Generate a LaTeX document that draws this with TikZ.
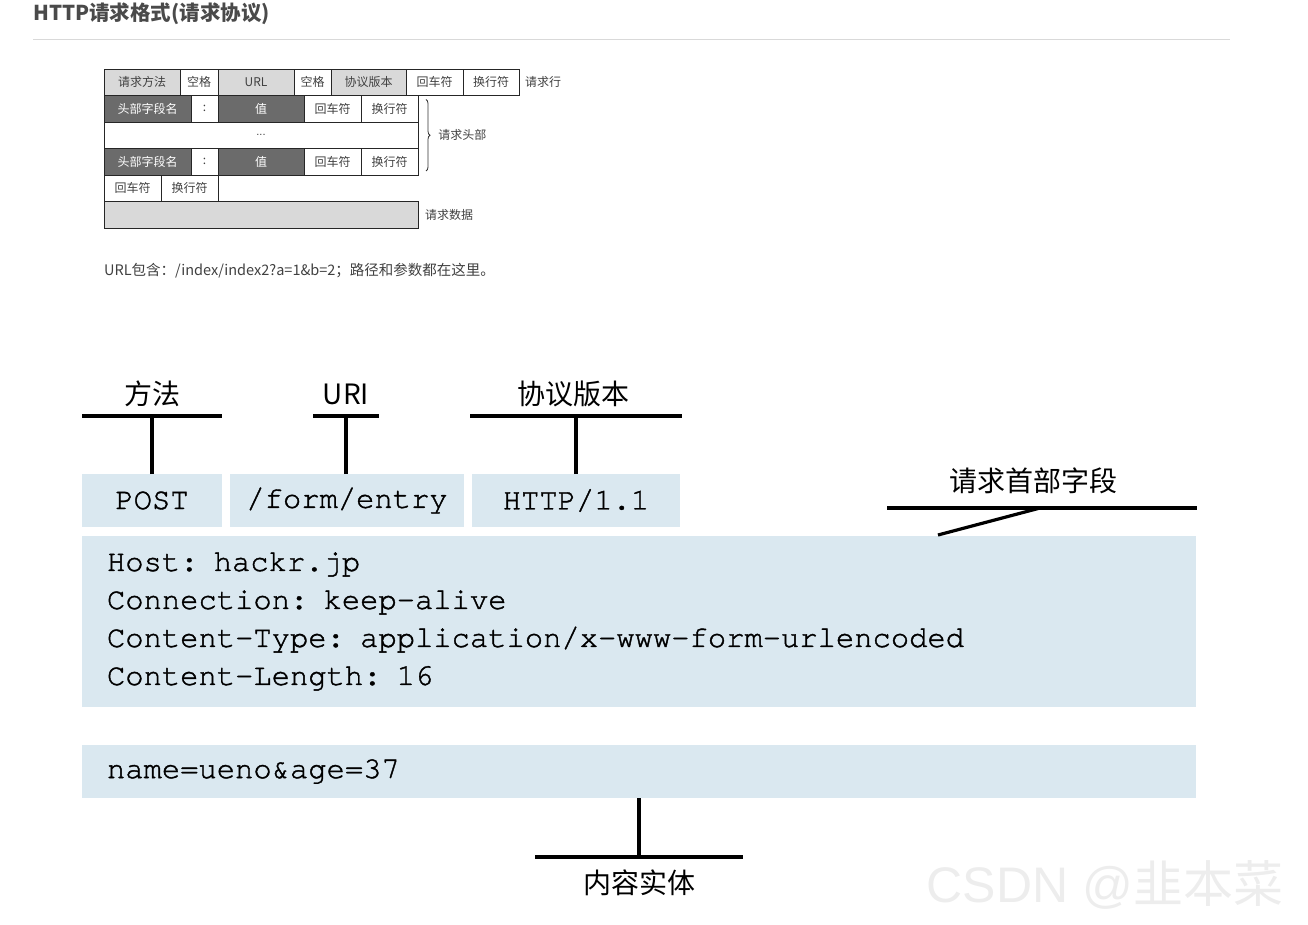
\documentclass[tikz,border=0pt]{standalone}
\usepackage{fontspec}
\setmainfont{Liberation Sans}
\newfontfamily\courfont[FakeBold=1.3]{TeX Gyre Cursor}
\newfontfamily\cjk{Noto Sans CJK SC}
\usetikzlibrary{positioning, calc, decorations.pathreplacing}
\definecolor{boxblue}{HTML}{DAE8F0}
\definecolor{cellgray}{HTML}{D9D9D9}
\definecolor{celldark}{HTML}{6B6B6B}
\definecolor{titlegray}{HTML}{4A4A4A}

\begin{document}
\begin{tikzpicture}[x=1pt, y=-1pt,
  cell/.style={draw=black!85, line width=0.8pt, anchor=north west, inner sep=0pt, outer sep=0pt,
               minimum height=26.5pt, font=\cjk\fontsize{12}{12}\selectfont, text=black!75},
  light/.style={cell, fill=cellgray},
  dark/.style={cell, fill=celldark, text=white},
  side/.style={font=\cjk\fontsize{12}{12}\selectfont, text=black!75, anchor=west, inner sep=0pt},
  part/.style={fill=boxblue, inner sep=0pt, outer sep=0pt, minimum height=53pt,
               font=\courfont\fontsize{30.5}{38}\selectfont},
  tag/.style={font=\cjk\fontsize{28}{28}\selectfont, inner sep=0pt},
  bar/.style={line width=3.2pt, black}
]
  \useasboundingbox (0,0) rectangle (1308,925);

  % page heading
  \node[anchor=west, inner sep=0pt, font=\cjk\bfseries\fontsize{20.5}{20.5}\selectfont, text=titlegray]
    (title) at (33,14) {HTTP请求格式(请求协议)};
  \draw[black!15, line width=1pt] (33,40) -- (1230,40);

  % request line
  \node[light, minimum width=76pt] (method) at (104,69) {请求方法};
  \node[cell, minimum width=38pt, right=0pt of method] (sp1) {空格};
  \node[light, minimum width=76pt, right=0pt of sp1] (url) {URL};
  \node[cell, minimum width=37pt, right=0pt of url] (sp2) {空格};
  \node[light, minimum width=75pt, right=0pt of sp2] (proto) {协议版本};
  \node[cell, minimum width=57pt, right=0pt of proto] (cr1) {回车符};
  \node[cell, minimum width=56pt, right=0pt of cr1] (lf1) {换行符};
  \node[side, right=6pt of lf1] (linetag) {请求行};

  % header lines
  \node[dark, minimum width=87pt] (hname1) at (method.south west) {头部字段名};
  \node[cell, minimum width=27pt, right=0pt of hname1] (colon1) {:};
  \node[dark, minimum width=86pt, right=0pt of colon1] (hval1) {值};
  \node[cell, minimum width=57pt, right=0pt of hval1] (cr2) {回车符};
  \node[cell, minimum width=57pt, right=0pt of cr2] (lf2) {换行符};

  \node[cell, minimum width=314pt, font=\fontsize{11}{11}\selectfont] (dots) at (hname1.south west) {...};

  \node[dark, minimum width=87pt] (hname2) at (dots.south west) {头部字段名};
  \node[cell, minimum width=27pt, right=0pt of hname2] (colon2) {:};
  \node[dark, minimum width=86pt, right=0pt of colon2] (hval2) {值};
  \node[cell, minimum width=57pt, right=0pt of hval2] (cr3) {回车符};
  \node[cell, minimum width=57pt, right=0pt of cr3] (lf3) {换行符};

  % blank line and data
  \node[cell, minimum width=57pt] (cr4) at (hname2.south west) {回车符};
  \node[cell, minimum width=57pt, right=0pt of cr4] (lf4) {换行符};
  \node[light, minimum width=314pt] (data) at (cr4.south west) {};
  \node[side, right=7pt of data] (datatag) {请求数据};

  \coordinate (bt) at ($(lf2.north east)+(8,4)$);
  \coordinate (bb) at ($(lf3.south east)+(8,-4)$);
  \draw[black!80, line width=0.8pt, decorate, decoration={brace, amplitude=4pt}] (bt) -- (bb)
    node[side, midway, xshift=12pt] (headtag) {请求头部};

  \node[anchor=west, inner sep=0pt, font=\cjk\fontsize{14.5}{14.5}\selectfont, text=black!75]
    (urlnote) at (104,271) {URL包含：/index/index2?a=1\&b=2；路径和参数都在这里。};

  % message parts
  \node[part, minimum width=140pt, anchor=north west] (post) at (82,474) {POST};
  \node[part, minimum width=234pt, right=8pt of post] (path) {/form/entry};
  \node[part, minimum width=208pt, right=8pt of path] (version) {HTTP/1.1};
  \node[part, minimum width=1114pt, minimum height=171pt, anchor=north west,
        align=left, text width=1064pt] (fields) at (82,536)
        {Host: hackr.jp\\Connection: keep-alive\\Content-Type: application/x-www-form-urlencoded\\Content-Length: 16};
  \node[part, minimum width=1114pt, anchor=north west, align=left, text width=1064pt]
        (body) at (82,745) {name=ueno\&age=37};

  % labels
  \node[tag] (methodtag) at (152,394) {方法};
  \coordinate (mj) at (152,416);
  \draw[bar] (post.north) -- (mj);
  \draw[bar] ($(mj)+(-70,0)$) -- ($(mj)+(70,0)$);

  \node[tag] (uritag) at (346,394) {URI};
  \coordinate (uj) at (346,416);
  \draw[bar] (path.north -| uj) -- (uj);
  \draw[bar] ($(uj)+(-33,0)$) -- ($(uj)+(33,0)$);

  \node[tag] (vertag) at (573,394) {协议版本};
  \coordinate (vj) at (576,416);
  \draw[bar] (version.north) -- (vj);
  \draw[bar] ($(vj)+(-106,0)$) -- ($(vj)+(106,0)$);

  \node[tag] (fieldtag) at (1033,481) {请求首部字段};
  \coordinate (fj) at (1040,508);
  \coordinate (fs) at (938,535);
  \draw[bar] (fs) -- (fj);
  \draw[bar] (887,508) -- (1197,508);

  \node[tag] (bodytag) at (639,883) {内容实体};
  \coordinate (bj) at (639,857);
  \draw[bar] (body.south) -- (bj);
  \draw[bar] ($(bj)+(-104,0)$) -- ($(bj)+(104,0)$);

  \node[inner sep=0pt, font=\fontsize{50}{50}\selectfont, text=black!7] (mark) at (1105,885)
    {CSDN @{\cjk 韭本菜}};
\end{tikzpicture}
\end{document}
